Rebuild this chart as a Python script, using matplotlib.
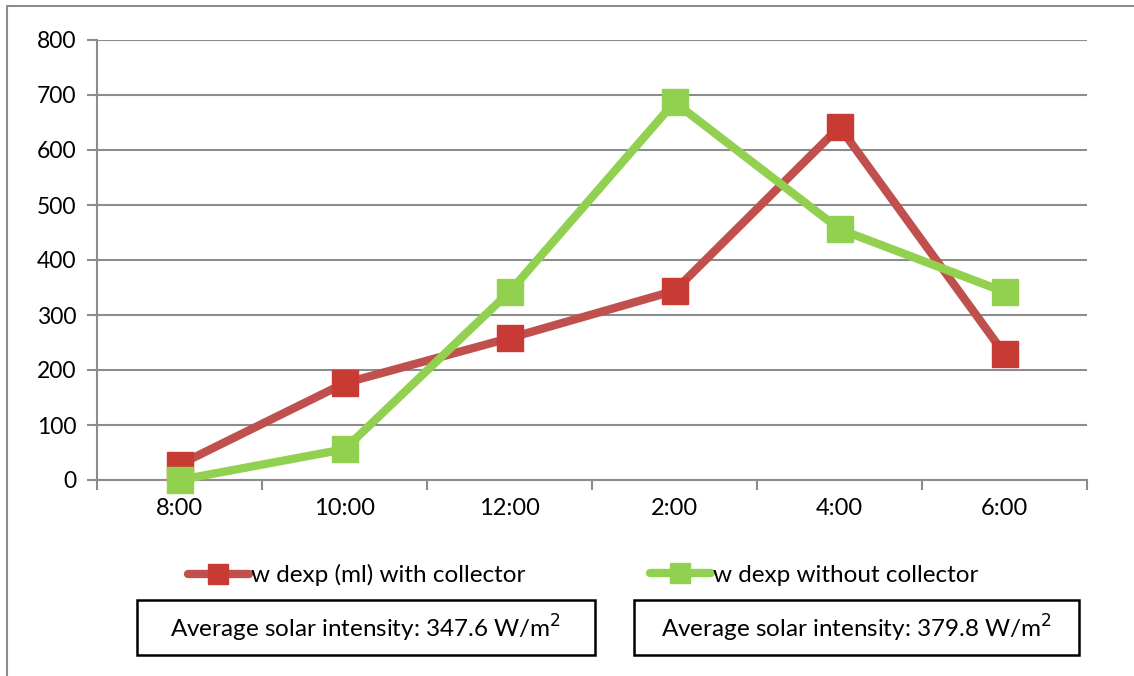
import matplotlib.pyplot as plt
from matplotlib.lines import Line2D
from matplotlib.patches import Rectangle

plt.rcParams['font.family'] = ['Lato', 'DejaVu Sans']

# hourly readings
times = ["8:00", "10:00", "12:00", "2:00", "4:00", "6:00"]
with_collector = [28, 176, 258, 344, 642, 229]
without_collector = [0, 56, 342, 687, 456, 342]
intensity_labels = ["Average solar intensity: 347.6 W/m$^2$",
                    "Average solar intensity: 379.8 W/m$^2$"]

red = '#C0504D'
red_marker = '#C83A34'
green = '#92D050'
grey = '#8C8C8C'

fig = plt.figure(figsize=(11.34, 6.76), dpi=100)
ax = fig.add_axes([97 / 1134, 1 - 480 / 676, 990 / 1134, 440 / 676])

x = list(range(len(times)))
ax.plot(x, with_collector, color=red, lw=6, marker='s', ms=19,
        mfc=red_marker, mec=red_marker, solid_capstyle='round', zorder=3,
        clip_on=False)
ax.plot(x, without_collector, color=green, lw=6, marker='s', ms=19,
        mfc=green, mec=green, solid_capstyle='round', zorder=4,
        clip_on=False)

ax.set_xlim(-0.5, len(times) - 0.5)
ax.set_ylim(0, 800)
ax.set_yticks(range(0, 801, 100))
ax.yaxis.grid(True, color=grey, lw=1.5)
ax.set_axisbelow(True)

ax.set_xticks(x)
ax.set_xticklabels(times)
ax.set_xticks([i - 0.5 for i in range(len(times) + 1)], minor=True)
ax.tick_params(axis='x', which='major', length=0, pad=13, labelsize=17)
ax.tick_params(axis='x', which='minor', length=7, width=1.5, color=grey)
ax.tick_params(axis='y', length=7, width=1.5, color=grey, pad=8, labelsize=16.5)

for side in ['top', 'right']:
    ax.spines[side].set_visible(False)
for side in ['left', 'bottom']:
    ax.spines[side].set_color(grey)
    ax.spines[side].set_linewidth(1.5)

# legend entries, one per series
labels = ["w dexp (ml) with collector", "w dexp without collector"]
colors = [(red, red_marker), (green, green)]
anchors = [(188 / 1134, 1 - 575 / 676), (650 / 1134, 1 - 575 / 676)]
for lab, (lc, mc), anc in zip(labels, colors, anchors):
    h = Line2D([], [], color=lc, lw=6, marker='s', ms=15, mfc=mc, mec=mc,
               solid_capstyle='round')
    fig.legend([h], [lab], loc='center left', bbox_to_anchor=anc,
               frameon=False, fontsize=17.5, handlelength=2.5,
               handletextpad=0.1, borderaxespad=0, borderpad=0)

# boxed intensity notes
boxes = [(137, 595), (634, 1079)]
for (x0, x1), txt in zip(boxes, intensity_labels):
    fig.patches.append(Rectangle((x0 / 1134, 1 - 655 / 676), (x1 - x0) / 1134,
                                 55 / 676, transform=fig.transFigure,
                                 fill=False, ec='black', lw=1.8))
    fig.text((x0 + x1) / 2 / 1134, 1 - 628 / 676, txt, ha='center',
             va='center', fontsize=17.5)

# outer chart border
fig.add_artist(Line2D([7 / 1134, 7 / 1134, 1], [0, 1 - 6 / 676, 1 - 6 / 676],
                      transform=fig.transFigure, color=grey, lw=1.5))

fig.savefig('out.png', dpi=100)
